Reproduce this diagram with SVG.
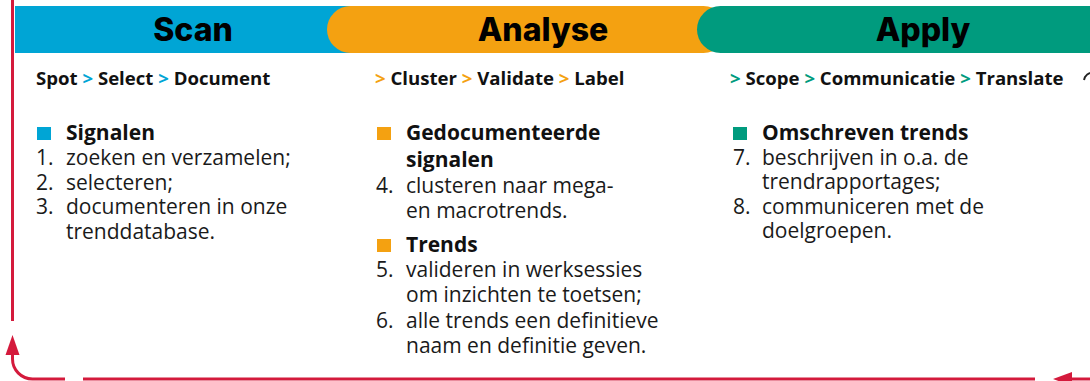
<svg xmlns="http://www.w3.org/2000/svg" width="1090" height="381" viewBox="0 0 1090 381">
<style>
.title{font-family:Inter,"Liberation Sans",sans-serif;font-weight:800;font-size:32px;fill:#000;text-anchor:middle}
.sub{font-family:"Open Sans","Noto Sans",sans-serif;font-weight:700;font-size:18.6px;fill:#111}
.body{font-family:"Open Sans","Noto Sans",sans-serif;font-weight:400;font-size:21px;fill:#1a1a1a}
.b{font-weight:700;fill:#111}
.blue{fill:#00A5D5}.orange{fill:#F4A111}.green{fill:#009B7E}
.red{stroke:#D41A3C;stroke-width:3;fill:none}
</style>
<rect width="1090" height="381" fill="#fff"/>
<g id="bars">
<rect x="15" y="6" width="340" height="47" class="blue"/>
<rect x="327" y="6" width="400" height="47" rx="23.5" class="orange"/>
<rect x="697" y="6" width="420" height="47" rx="23.5" class="green"/>
</g>
<g id="scan">
<text class="title" x="193" y="41">Scan</text>
<text class="sub" x="36" y="85">Spot <tspan fill="#00A5D5">&gt;</tspan> Select <tspan fill="#00A5D5">&gt;</tspan> Document</text>
<rect x="37" y="127" width="14" height="13" class="blue"/>
<text class="body"><tspan class="b" x="66" y="140">Signalen</tspan><tspan x="66" y="165">zoeken en verzamelen;</tspan><tspan x="66" y="190">selecteren;</tspan><tspan x="66" y="214">documenteren in onze</tspan><tspan x="66" y="239">trenddatabase.</tspan></text>
<text class="body"><tspan x="36" y="165">1.</tspan><tspan x="36" y="190">2.</tspan><tspan x="36" y="214">3.</tspan></text>
</g>
<g id="analyse">
<text class="title" x="543" y="41">Analyse</text>
<text class="sub" x="375" y="85"><tspan fill="#F4A111">&gt;</tspan> Cluster <tspan fill="#F4A111">&gt;</tspan> Validate <tspan fill="#F4A111">&gt;</tspan> Label</text>
<rect x="377" y="127" width="14" height="13" class="orange"/>
<rect x="377" y="239" width="14" height="13" class="orange"/>
<text class="body"><tspan class="b" x="406" y="140">Gedocumenteerde</tspan><tspan class="b" x="406" y="167">signalen</tspan><tspan x="406" y="193">clusteren naar mega-</tspan><tspan x="406" y="218">en macrotrends.</tspan><tspan class="b" x="406" y="252">Trends</tspan><tspan x="406" y="277">valideren in werksessies</tspan><tspan x="406" y="302">om inzichten te toetsen;</tspan><tspan x="406" y="328">alle trends een definitieve</tspan><tspan x="406" y="353">naam en definitie geven.</tspan></text>
<text class="body"><tspan x="376" y="193">4.</tspan><tspan x="376" y="277">5.</tspan><tspan x="376" y="328">6.</tspan></text>
</g>
<g id="apply">
<text class="title" x="923" y="41">Apply</text>
<text class="sub" x="730" y="85"><tspan fill="#009B7E">&gt;</tspan> Scope <tspan fill="#009B7E">&gt;</tspan> Communicatie <tspan fill="#009B7E">&gt;</tspan> Translate</text>
<rect x="733" y="127" width="14" height="13" class="green"/>
<text class="body"><tspan class="b" x="762" y="140">Omschreven trends</tspan><tspan x="762" y="165">beschrijven in o.a. de</tspan><tspan x="762" y="189">trendrapportages;</tspan><tspan x="762" y="214">communiceren met de</tspan><tspan x="762" y="238">doelgroepen.</tspan></text>
<text class="body"><tspan x="733" y="165">7.</tspan><tspan x="733" y="214">8.</tspan></text>
</g>
<g id="connectors">
<line x1="12.5" y1="0" x2="12.5" y2="321" class="red"/>
<path d="M12.5 352 V359 A20 20 0 0 0 32.5 379 H65" class="red"/>
<polygon points="12.5,335 5.5,355 19.5,355" fill="#D41A3C"/>
<line x1="83" y1="379" x2="1035" y2="379" class="red"/>
<polygon points="1053,379 1072,372 1072,386" fill="#D41A3C"/>
<line x1="1070" y1="379" x2="1090" y2="379" class="red"/>
<path d="M1084 80 L1085 77 Q1087 74 1090 73" stroke="#222" stroke-width="2" fill="none"/>
</g>
</svg>
